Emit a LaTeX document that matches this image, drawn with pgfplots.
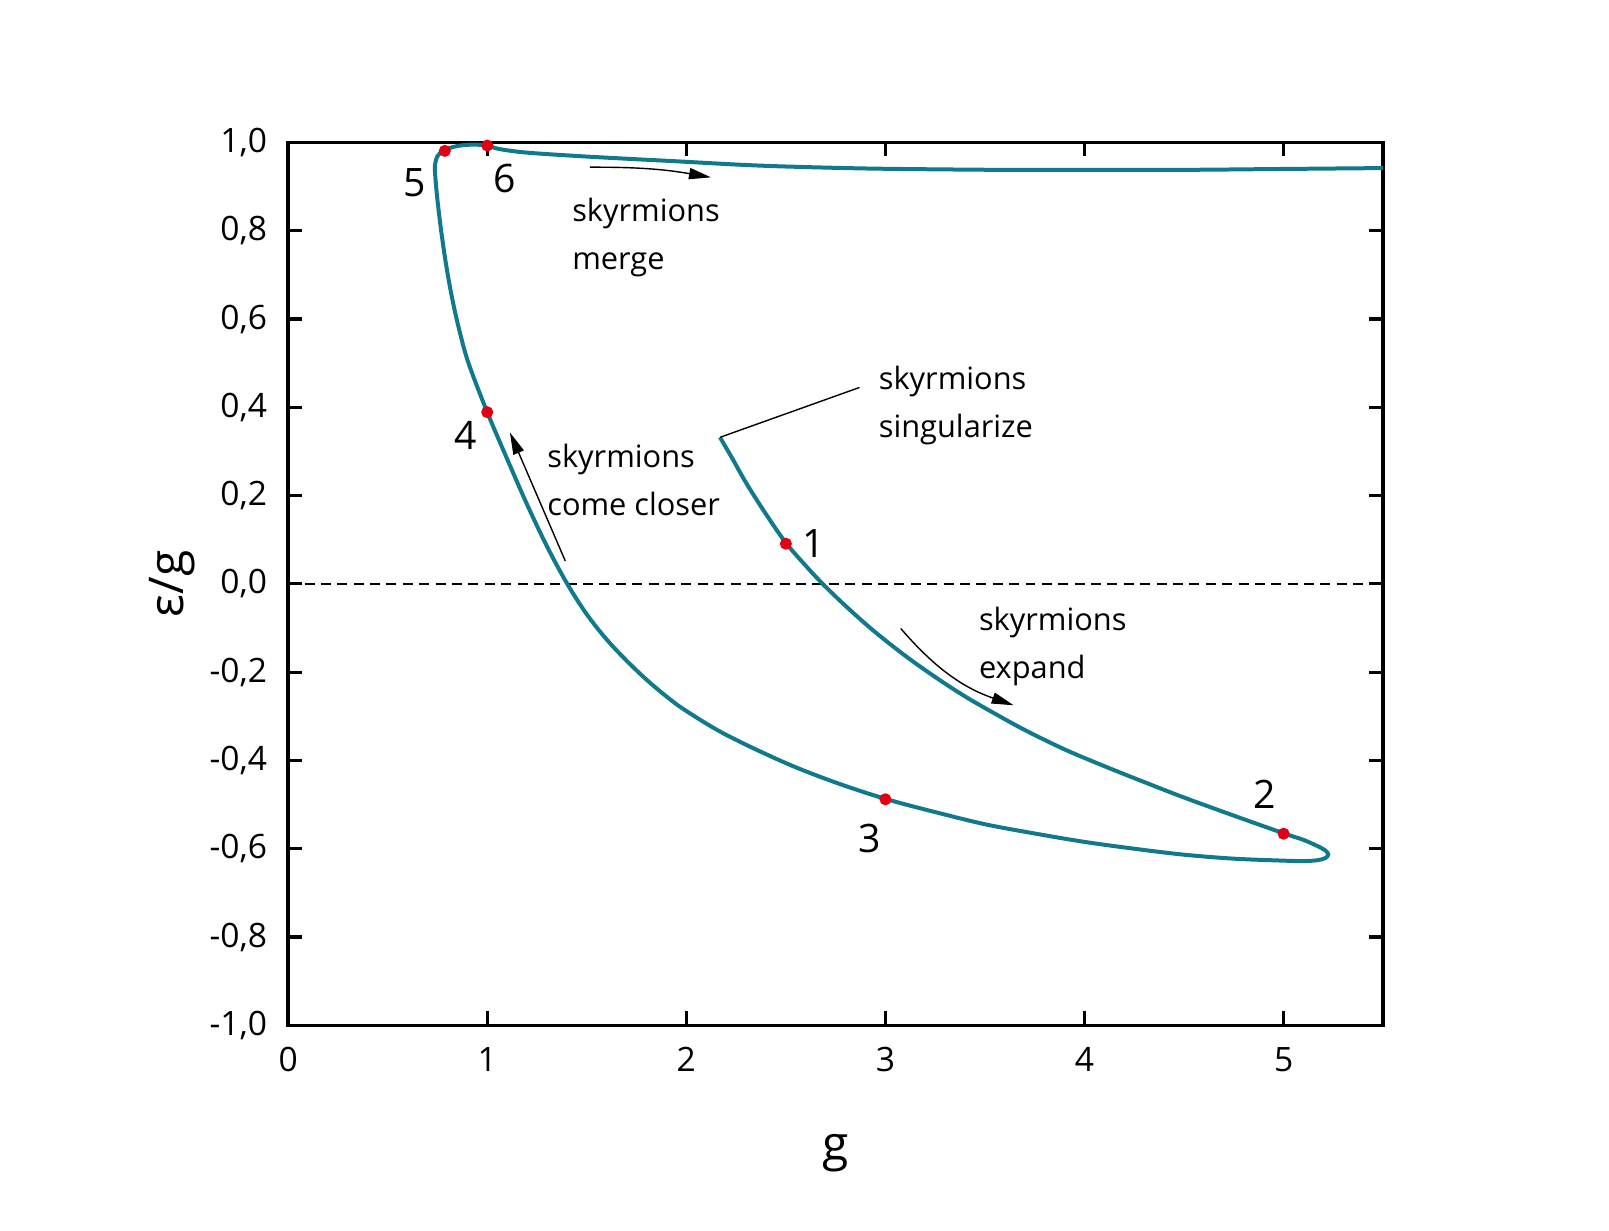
\documentclass[border=0pt]{standalone}
\usepackage{pgfplots}
\pgfplotsset{compat=1.18}
\usepackage{fontspec}
\setmainfont{Open Sans}
\usetikzlibrary{arrows.meta}
\definecolor{curve}{RGB}{16,122,140}
\definecolor{dotred}{RGB}{225,0,20}
\begin{document}
\begin{tikzpicture}
\path[use as bounding box] (-72.1pt,-51.45pt) rectangle (330.5pt,256.55pt);
\begin{axis}[at={(0,0)}, anchor=south west, scale only axis,
  width=274pt, height=220.9pt,
  xmin=0, xmax=5.5, ymin=-1, ymax=1,
  xtick={0,1,2,3,4,5},
  ytick={-1,-0.8,-0.6,-0.4,-0.2,0,0.2,0.4,0.6,0.8,1},
  tick align=inside, major tick length=3.5pt,
  tick style={line width=0.8pt, black},
  axis line style={line width=0.9pt},
  xticklabel style={font=\fontsize{8.4}{10}\selectfont, inner sep=0pt, anchor=center, yshift=-8.5pt,
    /pgf/number format/assume math mode=true},
  yticklabel style={font=\fontsize{8.4}{10}\selectfont, inner sep=0pt, anchor=east, xshift=-5.1pt,
    /pgf/number format/.cd, fixed, fixed zerofill, precision=1, use comma, assume math mode=true},
  xlabel={g}, ylabel={ε/g},
  xlabel style={font=\fontsize{12}{14}\selectfont, at={(axis description cs:0.5,-0.1449)}, anchor=center, inner sep=0pt},
  ylabel style={font=\fontsize{12}{14}\selectfont, at={(axis description cs:-0.1058,0.5)}, anchor=center, inner sep=0pt},
]
\addplot[black, line width=0.4pt, dash pattern=on 2.5pt off 1.6pt] coordinates {(0,0) (5.5,0)};
\addplot[curve, line width=1pt, smooth, tension=0.55] coordinates {
(2.169,0.332) (2.23,0.285) (2.3,0.229) (2.4,0.158) (2.5,0.093) (2.6,0.041)
(2.685,0.000) (2.8,-0.050) (2.94,-0.106) (3.1,-0.163) (3.25,-0.211) (3.4,-0.255)
(3.55,-0.294) (3.7,-0.331) (3.9,-0.375) (4.1,-0.413) (4.3,-0.449) (4.5,-0.484)
(4.75,-0.525) (5.0,-0.565) (5.1,-0.580) (5.17,-0.594) (5.21,-0.604) (5.224,-0.613)
(5.21,-0.621) (5.17,-0.626) (5.1,-0.628) (5.0,-0.627) (4.75,-0.6225) (4.5,-0.6135)
(4.25,-0.600) (4.0,-0.5845) (3.75,-0.5655) (3.5,-0.5445) (3.25,-0.517) (3.0,-0.487)
(2.75,-0.450) (2.5,-0.406) (2.2,-0.342) (2.0,-0.288) (1.9,-0.255) (1.8,-0.217)
(1.7,-0.174) (1.6,-0.126) (1.5,-0.069) (1.402,0.0) (1.3,0.085) (1.2,0.18)
(1.1,0.283) (1.0,0.389) (0.906,0.50) (0.859,0.576)
(0.822,0.651) (0.792,0.727) (0.768,0.802) (0.748,0.878) (0.737,0.938)
(0.741,0.957) (0.750,0.969) (0.765,0.977) (0.787,0.983) (0.83,0.990)
(0.88,0.994) (0.94,0.995) (1.0,0.993) (1.062,0.985) (1.2,0.977)
(1.465,0.969) (1.75,0.962) (1.966,0.957) (2.25,0.950) (2.468,0.946)
(2.8,0.942) (3.07,0.940) (3.574,0.938) (4.0,0.938) (4.5,0.938) (5.0,0.940) (5.5,0.942)
};
\addplot[only marks, mark=*, mark size=1.3pt, color=dotred, mark options={draw=none, fill=dotred}] coordinates {
(2.5,0.091) (5.0,-0.566) (3.0,-0.488) (1.0,0.389) (0.787,0.981) (1.0,0.993)
};
\begin{scope}[every node/.style={font=\fontsize{9.8}{12}\selectfont, inner sep=0pt, anchor=center}]
\node at (axis cs:2.64,0.092) {1};
\node at (axis cs:4.907,-0.477) {2};
\node at (axis cs:2.92,-0.577) {3};
\node at (axis cs:0.892,0.336) {4};
\node at (axis cs:0.634,0.909) {5};
\node at (axis cs:1.088,0.919) {6};
\end{scope}
\begin{scope}[every node/.style={font=\fontsize{7.7}{12}\selectfont, inner sep=0pt, anchor=base west, align=left}]
\node at (axis cs:1.423,0.712) {skyrmions\\merge};
\node at (axis cs:2.963,0.3326) {skyrmions\\singularize};
\node at (axis cs:1.298,0.156) {skyrmions\\come closer};
\node at (axis cs:3.466,-0.2138) {skyrmions\\expand};
\end{scope}
\draw[line width=0.35pt] (axis cs:2.169,0.332) -- (axis cs:2.87,0.445);
\draw[line width=0.35pt, -{Triangle[length=5.5pt,width=2.8pt]}] (axis cs:1.515,0.944) to[bend left=5] (axis cs:2.124,0.921);
\draw[line width=0.35pt, -{Triangle[length=5.5pt,width=2.8pt]}] (axis cs:1.392,0.052) -- (axis cs:1.114,0.343);
\draw[line width=0.35pt, -{Triangle[length=5.5pt,width=2.8pt]}] (axis cs:3.077,-0.101) to[bend right=15] (axis cs:3.644,-0.275);
\end{axis}
\end{tikzpicture}
\end{document}
